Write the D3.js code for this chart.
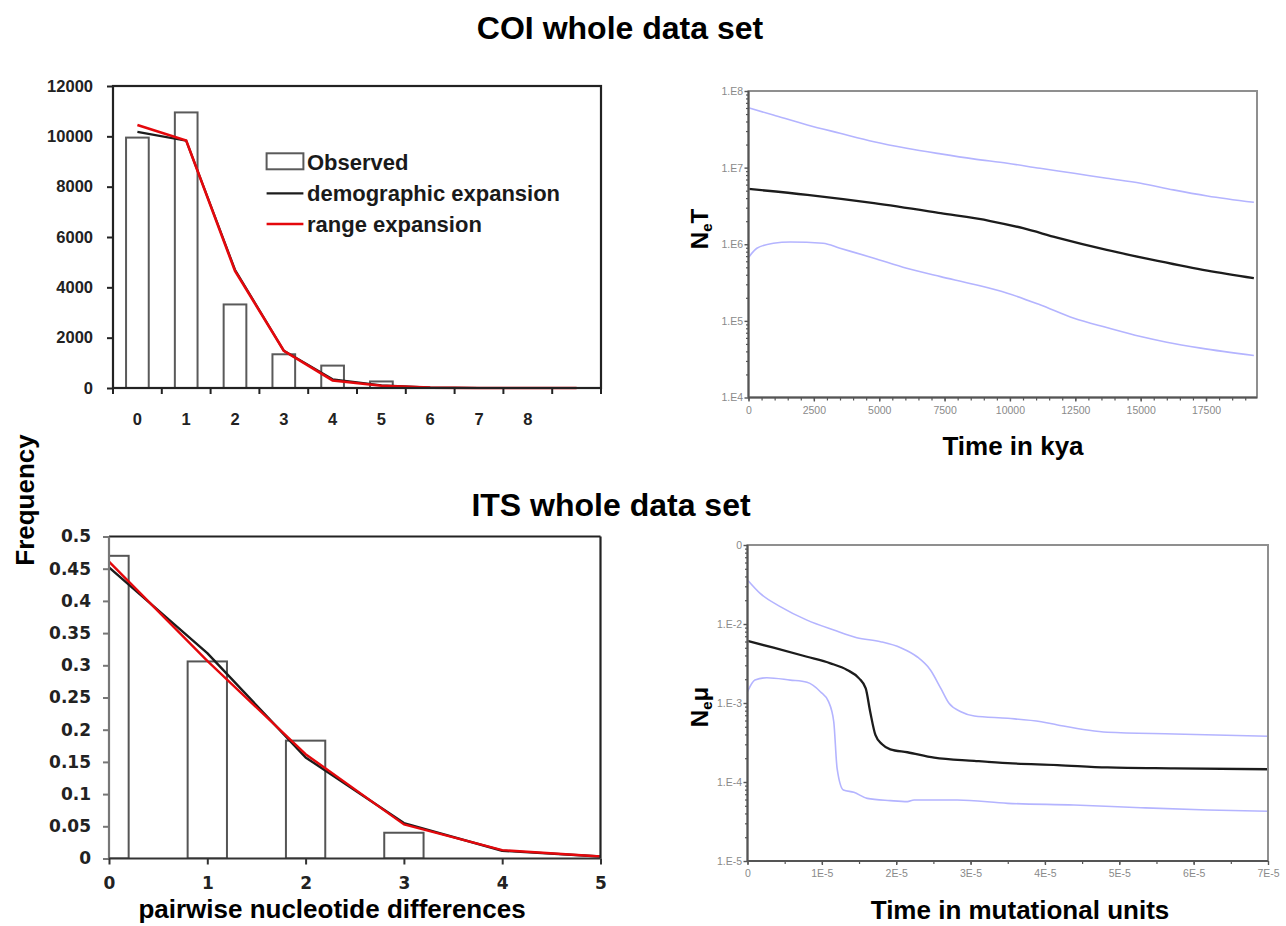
<!DOCTYPE html>
<html><head><meta charset="utf-8">
<script src="https://cdn.jsdelivr.net/npm/d3@7/dist/d3.min.js"></script>
<style>body{margin:0;background:#fff}svg{display:block}</style>
</head><body>
<svg id="c" width="1286" height="926"></svg>
<script>
// ---------- DATA ----------
// COI mismatch distribution (top-left)
const coiCategories = ["0","1","2","3","4","5","6","7","8",""];
const coiObserved = [9950, 10950, 3320, 1340, 890, 260, 0, 0, 0, 0];
const coiDemographic = [10180, 9830, 4700, 1480, 345, 110, 20, 0, 0, 0];
const coiRange = [10450, 9830, 4650, 1480, 300, 90, 15, 0, 0, 0];
const coiYTicks = [0, 2000, 4000, 6000, 8000, 10000, 12000];

// ITS mismatch distribution (bottom-left)
const itsX = [0, 1, 2, 3, 4, 5];
const itsObserved = [0.47, 0.306, 0.183, 0.04];
const itsObservedX = [0, 1, 2, 3];
const itsDemographic = [0.452, 0.319, 0.157, 0.055, 0.012, 0.003];
const itsRange = [0.461, 0.307, 0.162, 0.053, 0.013, 0.003];
const itsYTicks = [0, 0.05, 0.1, 0.15, 0.2, 0.25, 0.3, 0.35, 0.4, 0.45, 0.5];
const itsYLabels = ["0","0.05","0.1","0.15","0.2","0.25","0.3","0.35","0.4","0.45","0.5"];

// COI Bayesian skyline (top-right), time in kya, NeT
const coiSkyUpperT = [0, 950, 2250, 3500, 4800, 6050, 7350, 8600, 9900, 11150, 12450, 13700, 15000, 16250, 17550, 19330];
const coiSkyUpper  = [6.03e7, 4.86e7, 3.61e7, 2.81e7, 2.18e7, 1.79e7, 1.51e7, 1.30e7, 1.14e7, 9.79e6, 8.43e6, 7.26e6, 6.25e6, 5.12e6, 4.27e6, 3.53e6];
const coiSkyMedianT = [0, 2250, 4800, 7350, 9250, 10500, 11800, 13700, 15650, 17550, 19330];
const coiSkyMedian  = [5.27e6, 4.41e6, 3.43e6, 2.54e6, 2.01e6, 1.62e6, 1.22e6, 8.43e5, 6.07e5, 4.53e5, 3.61e5];
const coiSkyLowerT = [0, 320, 950, 1600, 2850, 3500, 4800, 6050, 7350, 8600, 9900, 11150, 12450, 13700, 15000, 16000, 17300, 19330];
const coiSkyLower  = [6.70e5, 8.87e5, 1.03e6, 1.07e6, 1.03e6, 8.87e5, 6.58e5, 4.86e5, 3.78e5, 3.01e5, 2.30e5, 1.62e5, 1.08e5, 8.18e4, 6.25e4, 5.27e4, 4.41e4, 3.53e4];
const coiSkyXTicks = [0, 2500, 5000, 7500, 10000, 12500, 15000, 17500];
const coiSkyYTicks = [1e4, 1e5, 1e6, 1e7, 1e8];
const coiSkyYLabels = ["1.E4", "1.E5", "1.E6", "1.E7", "1.E8"];

// ITS Bayesian skyline (bottom-right), time in mutational units, Ne·mu
const itsSkyUpperT = [0, 0.17e-5, 0.44e-5, 0.80e-5, 1.16e-5, 1.47e-5, 1.79e-5, 2.06e-5, 2.28e-5, 2.46e-5, 2.60e-5, 2.71e-5, 2.87e-5, 3.05e-5, 3.50e-5, 3.95e-5, 4.17e-5, 4.84e-5, 5.74e-5, 7.0e-5];
const itsSkyUpper  = [3.61e-2, 2.44e-2, 1.66e-2, 1.12e-2, 8.39e-3, 6.71e-3, 5.97e-3, 5.01e-3, 3.85e-3, 2.62e-3, 1.53e-3, 9.91e-4, 7.76e-4, 6.84e-4, 6.40e-4, 5.79e-4, 5.27e-4, 4.26e-4, 4.06e-4, 3.80e-4];
const itsSkyMedianT = [0, 0.35e-5, 0.80e-5, 1.115e-5, 1.34e-5, 1.50e-5, 1.59e-5, 1.65e-5, 1.72e-5, 1.81e-5, 1.92e-5, 2.15e-5, 2.51e-5, 3.05e-5, 3.50e-5, 4.17e-5, 4.84e-5, 5.74e-5, 7.0e-5];
const itsSkyMedian  = [6.10e-3, 5.01e-3, 3.85e-3, 3.18e-3, 2.62e-3, 2.05e-3, 1.53e-3, 7.76e-4, 3.94e-4, 3.00e-4, 2.59e-4, 2.38e-4, 2.03e-4, 1.85e-4, 1.73e-4, 1.64e-4, 1.53e-4, 1.49e-4, 1.45e-4];
const itsSkyLowerT = [0, 0.10e-5, 0.26e-5, 0.575e-5, 0.80e-5, 0.98e-5, 1.09e-5, 1.16e-5, 1.205e-5, 1.29e-5, 1.43e-5, 1.61e-5, 1.92e-5, 2.15e-5, 2.24e-5, 2.82e-5, 3.50e-5, 4.39e-5, 5.29e-5, 6.19e-5, 7.0e-5];
const itsSkyLower  = [1.39e-3, 1.95e-3, 2.09e-3, 1.95e-3, 1.83e-3, 1.39e-3, 1.04e-3, 5.79e-4, 1.49e-4, 7.93e-5, 7.40e-5, 6.21e-5, 5.81e-5, 5.64e-5, 5.92e-5, 5.92e-5, 5.37e-5, 5.12e-5, 4.73e-5, 4.43e-5, 4.27e-5];
const itsSkyXTicks = [0, 1e-5, 2e-5, 3e-5, 4e-5, 5e-5, 6e-5, 7e-5];
const itsSkyXLabels = ["0", "1E-5", "2E-5", "3E-5", "4E-5", "5E-5", "6E-5", "7E-5"];
const itsSkyYTicks = [1e-5, 1e-4, 1e-3, 1e-2, 1e-1];
const itsSkyYLabels = ["1.E-5", "1.E-4", "1.E-3", "1.E-2", "0"];

// ---------- DRAWING ----------
const svg = d3.select("#c");
const SANS = "'Liberation Sans', Arial, sans-serif";
const WIDE = "'DejaVu Sans', sans-serif";
const RED = "#e4080c", BLACK = "#1c1c1c", BLUE = "#b4b4ff";

function title(x, y, txt, size, font) {
  return svg.append("text").attr("x", x).attr("y", y).attr("text-anchor", "middle")
    .style("font-family", font || SANS).style("font-weight", "bold").style("font-size", size + "px")
    .attr("fill", "#000").text(txt);
}
title(620, 39, "COI whole data set", 32);
title(611, 516, "ITS whole data set", 32);

// ===== Top-left: COI mismatch =====
(function () {
  const b = {x0: 113, x1: 601, y0: 86, y1: 388};
  const g = svg.append("g");
  const idx = coiCategories.map((d, i) => i);
  const x = d3.scaleBand().domain(idx).range([b.x0, b.x1]);
  const y = d3.scaleLinear().domain([0, 12000]).range([b.y1, b.y0]);
  const bw = x.bandwidth();
  const cx = i => x(i) + bw / 2;

  g.selectAll("rect.bar").data(coiObserved).join("rect").attr("class", "bar")
    .attr("x", (d, i) => cx(i) - bw * 0.2325).attr("width", bw * 0.465)
    .attr("y", d => y(d)).attr("height", d => b.y1 - y(d))
    .attr("fill", "#fff").attr("stroke", d => d > 0 ? "#5a5a5a" : "none").attr("stroke-width", 2);

  const line = d3.line().x((d, i) => cx(i)).y(d => y(d));
  g.append("path").datum(coiDemographic).attr("d", line).attr("fill", "none").attr("stroke", BLACK).attr("stroke-width", 2.2);
  g.append("path").datum(coiRange).attr("d", line).attr("fill", "none").attr("stroke", RED).attr("stroke-width", 2.6);

  g.append("rect").attr("x", b.x0).attr("y", b.y0).attr("width", b.x1 - b.x0).attr("height", b.y1 - b.y0)
    .attr("fill", "none").attr("stroke", "#222").attr("stroke-width", 2.2);

  const ya = g.append("g").attr("transform", `translate(${b.x0},0)`)
    .call(d3.axisLeft(y).tickValues(coiYTicks).tickSize(6).tickPadding(14).tickFormat(d3.format("d")));
  ya.select(".domain").remove();
  ya.selectAll("line").attr("stroke", "#222").attr("stroke-width", 2);
  ya.selectAll("text").style("font-family", SANS).style("font-weight", "bold").style("font-size", "16.5px").attr("fill", "#222");

  // category boundaries ticks
  const bounds = idx.map(i => x(i)).concat([b.x1]);
  g.selectAll("line.xt").data(bounds).join("line").attr("class", "xt")
    .attr("x1", d => d).attr("x2", d => d).attr("y1", b.y1).attr("y2", b.y1 + 6)
    .attr("stroke", "#222").attr("stroke-width", 2);
  g.selectAll("text.xl").data(coiCategories).join("text").attr("class", "xl")
    .attr("x", (d, i) => cx(i)).attr("y", 425).attr("text-anchor", "middle")
    .style("font-family", SANS).style("font-weight", "bold").style("font-size", "16.5px").attr("fill", "#222").text(d => d);

  // legend
  const lg = g.append("g");
  lg.append("rect").attr("x", 266.6).attr("y", 153.3).attr("width", 36.8).attr("height", 16)
    .attr("fill", "#fff").attr("stroke", "#5a5a5a").attr("stroke-width", 2);
  lg.append("line").attr("x1", 266.6).attr("x2", 303.4).attr("y1", 193.3).attr("y2", 193.3).attr("stroke", BLACK).attr("stroke-width", 2.2);
  lg.append("line").attr("x1", 266.6).attr("x2", 303.4).attr("y1", 224).attr("y2", 224).attr("stroke", RED).attr("stroke-width", 2.6);
  const legendItems = ["Observed", "demographic expansion", "range expansion"];
  const ly = [169.5, 200.5, 231.8];
  lg.selectAll("text").data(legendItems).join("text").attr("x", 307).attr("y", (d, i) => ly[i])
    .style("font-family", SANS).style("font-weight", "bold").style("font-size", "22px").attr("fill", "#1a1a1a").text(d => d);
})();

// Frequency label
svg.append("text").attr("transform", "translate(34,500) rotate(-90)").attr("text-anchor", "middle")
  .style("font-family", SANS).style("font-weight", "bold").style("font-size", "26px").text("Frequency");

// ===== Bottom-left: ITS mismatch =====
(function () {
  const b = {x0: 109, x1: 600.5, y0: 536.5, y1: 858.5};
  const g = svg.append("g");
  const x = d3.scaleLinear().domain([0, 5]).range([b.x0, b.x1]);
  const y = d3.scaleLinear().domain([0, 0.5]).range([b.y1, b.y0]);
  svg.append("clipPath").attr("id", "clipBL").append("rect")
    .attr("x", b.x0).attr("y", b.y0 - 5).attr("width", b.x1 - b.x0).attr("height", b.y1 - b.y0 + 5);

  g.append("g").attr("clip-path", "url(#clipBL)").selectAll("rect").data(itsObserved).join("rect")
    .attr("x", (d, i) => x(itsObservedX[i] - 0.2)).attr("width", x(0.4) - x(0))
    .attr("y", d => y(d)).attr("height", d => b.y1 - y(d))
    .attr("fill", "#fff").attr("stroke", "#555").attr("stroke-width", 2);

  const line = d3.line().x((d, i) => x(itsX[i])).y(d => y(d));
  g.append("path").datum(itsDemographic).attr("d", line).attr("fill", "none").attr("stroke", BLACK).attr("stroke-width", 2.4).attr("stroke-linejoin", "round");
  g.append("path").datum(itsRange).attr("d", line).attr("fill", "none").attr("stroke", RED).attr("stroke-width", 2.4).attr("stroke-linejoin", "round");

  // frame
  g.append("line").attr("x1", b.x0).attr("x2", b.x1).attr("y1", b.y0).attr("y2", b.y0).attr("stroke", "#222").attr("stroke-width", 2.2);
  g.append("line").attr("x1", b.x1).attr("x2", b.x1).attr("y1", b.y0).attr("y2", b.y1).attr("stroke", "#222").attr("stroke-width", 2.2);
  g.append("line").attr("x1", b.x0).attr("x2", b.x0).attr("y1", b.y0).attr("y2", b.y1).attr("stroke", "#777").attr("stroke-width", 2.2);
  g.append("line").attr("x1", b.x0).attr("x2", b.x1).attr("y1", b.y1).attr("y2", b.y1).attr("stroke", "#333").attr("stroke-width", 2.2);

  const ya = g.append("g").attr("transform", `translate(${b.x0},0)`)
    .call(d3.axisLeft(y).tickValues(itsYTicks).tickSize(6).tickPadding(12).tickFormat((d, i) => itsYLabels[i]));
  ya.select(".domain").remove();
  ya.selectAll("line").attr("stroke", "#777").attr("stroke-width", 2);
  ya.selectAll("text").style("font-family", WIDE).style("font-weight", "bold").style("font-size", "17px").attr("fill", "#222");

  const xa = g.append("g").attr("transform", `translate(0,${b.y1})`)
    .call(d3.axisBottom(x).tickValues(itsX).tickSize(6).tickPadding(12).tickFormat(d3.format("d")));
  xa.select(".domain").remove();
  xa.selectAll("line").attr("stroke", "#333").attr("stroke-width", 2);
  xa.selectAll("text").style("font-family", WIDE).style("font-weight", "bold").style("font-size", "17px").attr("fill", "#222");

  title(332, 918, "pairwise nucleotide differences", 26);
})();

// ===== skyline helper =====
function logMinor(lo, hi) {
  const v = [];
  for (let e = lo; e < hi; e++) for (let k = 2; k <= 9; k++) v.push(k * Math.pow(10, e));
  return v;
}
function skyline(b, x, y, opts) {
  const g = svg.append("g");
  const line = d3.line().x(d => x(d[0])).y(d => y(d[1])).curve(d3.curveMonotoneX);
  const zip = (t, v) => t.map((d, i) => [d, v[i]]);
  opts.series.forEach(s => {
    g.append("path").datum(zip(s.t, s.v)).attr("d", line).attr("fill", "none")
      .attr("stroke", s.color).attr("stroke-width", s.w);
  });
  g.append("rect").attr("x", b.x0).attr("y", b.y0).attr("width", b.x1 - b.x0).attr("height", b.y1 - b.y0)
    .attr("fill", "none").attr("stroke", "#8f8f8f").attr("stroke-width", 2);
  g.append("line").attr("x1", b.x0).attr("x2", b.x0).attr("y1", b.y0).attr("y2", b.y1).attr("stroke", "#555").attr("stroke-width", 2);
  g.append("line").attr("x1", b.x0).attr("x2", b.x1).attr("y1", b.y1).attr("y2", b.y1).attr("stroke", "#555").attr("stroke-width", 2);

  // minor ticks
  const ym = g.append("g").attr("transform", `translate(${b.x0},0)`)
    .call(d3.axisLeft(y).tickValues(opts.yMinor).tickSize(2.5).tickFormat(""));
  ym.select(".domain").remove(); ym.selectAll("line").attr("stroke", "#555").attr("stroke-width", 1.2);
  const xm = g.append("g").attr("transform", `translate(0,${b.y1})`)
    .call(d3.axisBottom(x).tickValues(opts.xMinor).tickSize(3).tickFormat(""));
  xm.select(".domain").remove(); xm.selectAll("line").attr("stroke", "#555").attr("stroke-width", 1.2);

  const ya = g.append("g").attr("transform", `translate(${b.x0},0)`)
    .call(d3.axisLeft(y).tickValues(opts.yTicks).tickSize(4).tickPadding(1.5).tickFormat((d, i) => opts.yLabels[i]));
  ya.select(".domain").remove();
  ya.selectAll("line").attr("stroke", "#555").attr("stroke-width", 1.4);
  ya.selectAll("text").style("font-family", SANS).style("font-size", "10.5px").attr("fill", "#8a8a8a");
  const xa = g.append("g").attr("transform", `translate(0,${b.y1})`)
    .call(d3.axisBottom(x).tickValues(opts.xTicks).tickSize(4).tickPadding(5).tickFormat((d, i) => opts.xLabels[i]));
  xa.select(".domain").remove();
  xa.selectAll("line").attr("stroke", "#555").attr("stroke-width", 1.4);
  xa.selectAll("text").style("font-family", SANS).style("font-size", "10.5px").attr("fill", "#8a8a8a");
  return g;
}

// ===== Top-right =====
(function () {
  const b = {x0: 748.5, x1: 1257, y0: 91, y1: 397.5};
  const x = d3.scaleLinear().domain([0, 19450]).range([b.x0, b.x1]);
  const y = d3.scaleLog().domain([1e4, 1e8]).range([b.y1, b.y0]);
  const xMinor = d3.range(0, 19450, 500);
  skyline(b, x, y, {
    series: [
      {t: coiSkyUpperT, v: coiSkyUpper, color: BLUE, w: 1.6},
      {t: coiSkyLowerT, v: coiSkyLower, color: BLUE, w: 1.6},
      {t: coiSkyMedianT, v: coiSkyMedian, color: BLACK, w: 2.3}
    ],
    xTicks: coiSkyXTicks, xLabels: coiSkyXTicks.map(String), xMinor: xMinor,
    yTicks: coiSkyYTicks, yLabels: coiSkyYLabels, yMinor: logMinor(4, 8)
  });
  title(1013, 455, "Time in kya", 26);
  const t = svg.append("text").attr("transform", "translate(708,229) rotate(-90)").attr("text-anchor", "middle")
    .style("font-family", SANS).style("font-weight", "bold").style("font-size", "24px");
  t.append("tspan").text("N");
  t.append("tspan").attr("dy", 4).style("font-size", "15px").text("e");
  t.append("tspan").attr("dy", -4).text("T");
})();

// ===== Bottom-right =====
(function () {
  const b = {x0: 747.5, x1: 1268, y0: 545, y1: 861};
  const x = d3.scaleLinear().domain([0, 7e-5]).range([b.x0, b.x1]);
  const y = d3.scaleLog().domain([1e-5, 1e-1]).range([b.y1, b.y0]);
  const xMinor = d3.range(0, 14).map(i => i * 0.5e-5);
  skyline(b, x, y, {
    series: [
      {t: itsSkyUpperT, v: itsSkyUpper, color: BLUE, w: 1.6},
      {t: itsSkyLowerT, v: itsSkyLower, color: BLUE, w: 1.6},
      {t: itsSkyMedianT, v: itsSkyMedian, color: BLACK, w: 2.3}
    ],
    xTicks: itsSkyXTicks, xLabels: itsSkyXLabels, xMinor: xMinor,
    yTicks: itsSkyYTicks, yLabels: itsSkyYLabels, yMinor: logMinor(-5, -1)
  });
  title(1020, 919, "Time in mutational units", 26);
  const t = svg.append("text").attr("transform", "translate(708,707) rotate(-90)").attr("text-anchor", "middle")
    .style("font-family", SANS).style("font-weight", "bold").style("font-size", "24px");
  t.append("tspan").text("N");
  t.append("tspan").attr("dy", 4).style("font-size", "15px").text("e");
  t.append("tspan").attr("dy", -4).text("μ");
})();
</script>
</body></html>
